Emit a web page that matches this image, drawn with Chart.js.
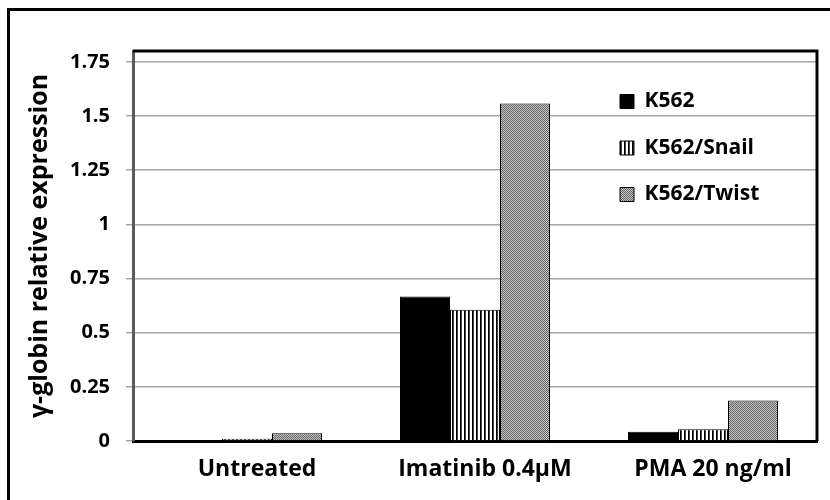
<!DOCTYPE html>
<html>
<head>
<meta charset="utf-8">
<script src="https://cdn.jsdelivr.net/npm/chart.js@4.4.0/dist/chart.umd.min.js"></script>
<style>
  html, body { margin: 0; padding: 0; background: #fff; }
  #wrap { position: relative; width: 830px; height: 500px; overflow: hidden; }
  #frame { position: absolute; left: 7px; top: 8px; width: 900px; height: 600px; border-left: 3px solid #000; border-top: 3px solid #000; }
  canvas { position: absolute; left: 0; top: 0; }
</style>
</head>
<body>
<div id="wrap">
  <div id="frame"></div>
  <canvas id="chart" width="830" height="500"></canvas>
</div>
<script>
const categories = ['Untreated', 'Imatinib 0.4\u03bcM', 'PMA 20 ng/ml'];
const seriesNames = ['K562', 'K562/Snail', 'K562/Twist'];
const k562 = [0.005, 0.667, 0.043];
const k562Snail = [0.010, 0.606, 0.054];
const k562Twist = [0.036, 1.558, 0.187];
const yTicks = [0, 0.25, 0.5, 0.75, 1, 1.25, 1.5, 1.75];

// fill patterns like the old excel hatches
function makePattern(size, paint) {
    const c = document.createElement('canvas');
    c.width = size; c.height = size;
    paint(c.getContext('2d'));
    return c.getContext('2d').createPattern(c, 'repeat');
}
const stripes = makePattern(4, g => {
    g.fillStyle = '#fff'; g.fillRect(0, 0, 4, 4);
    g.fillStyle = '#000'; g.fillRect(0, 0, 1, 4);
    g.fillStyle = '#444'; g.fillRect(1, 0, 1, 4);
});
const stipple = makePattern(2, g => {
    g.fillStyle = '#c4c4c4'; g.fillRect(0, 0, 2, 2);
    g.fillStyle = '#666'; g.fillRect(0, 0, 1, 1); g.fillRect(1, 1, 1, 1);
});

const boldFont = size => ({ family: '"Open Sans", Lato, sans-serif', weight: 'bold', size: size });

// frame on top/right of plot + move legend inside the plot
const plotExtras = {
    id: 'plotExtras',
    afterLayout(chart) {
        const a = chart.chartArea, lg = chart.legend;
        const pad = lg.options.labels.padding;
        lg.left = a.right - 197 - pad;
        lg.top = a.top + 40 - pad;
        lg.right = lg.left + lg.width;
        lg.bottom = lg.top + lg.height;
    },
    afterDatasetsDraw(chart) {
        const a = chart.chartArea, ctx = chart.ctx;
        ctx.save();
        ctx.strokeStyle = '#000';
        ctx.lineWidth = 3;
        ctx.beginPath();
        ctx.moveTo(a.left, a.top);
        ctx.lineTo(a.right, a.top);
        ctx.lineTo(a.right, a.bottom);
        ctx.stroke();
        ctx.restore();
    }
};

new Chart(document.getElementById('chart'), {
    type: 'bar',
    data: {
        labels: categories,
        datasets: [
            { label: seriesNames[0], data: k562, backgroundColor: '#000' },
            { label: seriesNames[1], data: k562Snail, backgroundColor: stripes },
            { label: seriesNames[2], data: k562Twist, backgroundColor: stipple }
        ].map(d => ({ ...d, borderColor: '#000', borderWidth: 1, categoryPercentage: 0.658, barPercentage: 1 }))
    },
    options: {
        responsive: false,
        animation: false,
        devicePixelRatio: 1,
        layout: { padding: { top: 51, right: 13, left: 0, bottom: 0 } },
        plugins: {
            tooltip: { enabled: false },
            legend: {
                position: 'chartArea',
                align: 'start',
                labels: {
                    color: '#000',
                    font: boldFont(21),
                    boxWidth: 14,
                    boxHeight: 14,
                    padding: 25.5
                }
            }
        },
        scales: {
            x: {
                grid: { display: false, drawTicks: false },
                border: { color: '#000', width: 3 },
                ticks: { color: '#000', font: boldFont(23), padding: 15, maxRotation: 0, labelOffset: 10 },
                afterFit: s => { s.height = 59; }
            },
            y: {
                min: 0,
                max: 1.8,
                afterBuildTicks: s => { s.ticks = yTicks.map(v => ({ value: v })); },
                grid: { color: '#a6a6a6', lineWidth: 1.5, tickLength: 7 },
                border: { color: '#5a5a5a', width: 3 },
                ticks: { color: '#000', font: boldFont(20), padding: 16, callback: v => String(v) },
                title: {
                    display: true,
                    text: '\u03b3-globin relative expression',
                    color: '#000',
                    font: boldFont(25),
                    padding: { top: 25, bottom: 0 }
                },
                afterFit: s => { s.width = 133; }
            }
        }
    },
    plugins: [plotExtras]
});
</script>
</body>
</html>
